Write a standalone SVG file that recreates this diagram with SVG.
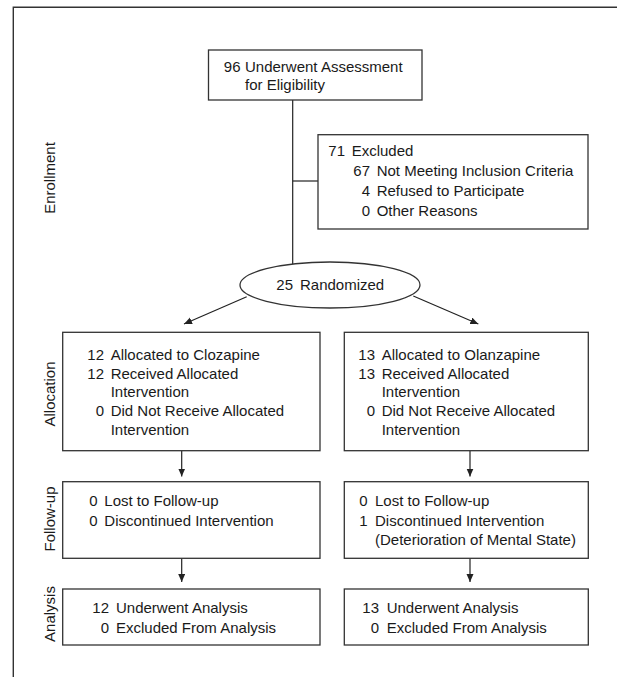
<svg xmlns="http://www.w3.org/2000/svg" width="617" height="677" viewBox="0 0 617 677">
<style>
text{font-family:"Liberation Sans",Arial,sans-serif;font-size:15px;fill:#1a1a1a}
.n{text-anchor:end}
.box{fill:#fff;stroke:#333;stroke-width:1.3}
.ln{fill:none;stroke:#222;stroke-width:1.2}
.frame{fill:none;stroke:#333;stroke-width:1.4}
.stage{text-anchor:middle}
</style>
<defs>
<marker id="ah" markerUnits="userSpaceOnUse" markerWidth="9" markerHeight="8" refX="8" refY="3.5" orient="auto">
<path d="M0,0 L8,3.5 L0,7 z" fill="#222"/>
</marker>
</defs>
<rect width="617" height="677" fill="#fff"/>
<path class="frame" d="M13.3,677 V7.3 H617"/>

<g id="stages">
<text class="stage" transform="translate(55,178) rotate(-90)">Enrollment</text>
<text class="stage" transform="translate(55,394) rotate(-90)">Allocation</text>
<text class="stage" transform="translate(55,519) rotate(-90)">Follow-up</text>
<text class="stage" transform="translate(55,614) rotate(-90)">Analysis</text>
</g>

<g id="connectors">
<path class="ln" d="M292.7,100 V264"/>
<path class="ln" d="M292.7,181 H318"/>
<path class="ln" d="M246.7,296.7 L184,324" marker-end="url(#ah)"/>
<path class="ln" d="M413.3,296 L478.3,324" marker-end="url(#ah)"/>
<path class="ln" d="M181.7,450.7 V476.5" marker-end="url(#ah)"/>
<path class="ln" d="M470,450.7 V476.5" marker-end="url(#ah)"/>
<path class="ln" d="M181.7,558.3 V582" marker-end="url(#ah)"/>
<path class="ln" d="M470,558.3 V582" marker-end="url(#ah)"/>
</g>

<g id="assessment">
<rect class="box" x="208.5" y="50" width="213.5" height="50"/>
<text class="n" x="240.5" y="71.7">96</text>
<text x="245" y="71.7">Underwent Assessment</text>
<text x="245" y="90">for Eligibility</text>
</g>

<g id="excluded">
<rect class="box" x="318" y="134.7" width="270" height="94.3"/>
<text class="n" x="345" y="156">71</text>
<text x="351.7" y="156">Excluded</text>
<text class="n" x="370" y="176">67</text>
<text x="376.7" y="176">Not Meeting Inclusion Criteria</text>
<text class="n" x="370" y="196">4</text>
<text x="376.7" y="196">Refused to Participate</text>
<text class="n" x="370" y="216">0</text>
<text x="376.7" y="216">Other Reasons</text>
</g>

<g id="randomized">
<ellipse class="box" cx="330" cy="285" rx="90" ry="23"/>
<text class="n" x="293" y="290">25</text>
<text x="300" y="290">Randomized</text>
</g>

<g id="alloc-clozapine">
<rect class="box" x="62.7" y="332.3" width="257.3" height="118.4"/>
<text class="n" x="104" y="360">12</text>
<text x="110.7" y="360">Allocated to Clozapine</text>
<text class="n" x="104" y="378.7">12</text>
<text x="110.7" y="378.7">Received Allocated</text>
<text x="110.7" y="397.3">Intervention</text>
<text class="n" x="104" y="416">0</text>
<text x="110.7" y="416">Did Not Receive Allocated</text>
<text x="110.7" y="434.7">Intervention</text>
</g>

<g id="alloc-olanzapine">
<rect class="box" x="344.3" y="332.3" width="244" height="118.4"/>
<text class="n" x="375" y="360">13</text>
<text x="381.7" y="360">Allocated to Olanzapine</text>
<text class="n" x="375" y="378.7">13</text>
<text x="381.7" y="378.7">Received Allocated</text>
<text x="381.7" y="397.3">Intervention</text>
<text class="n" x="375" y="416">0</text>
<text x="381.7" y="416">Did Not Receive Allocated</text>
<text x="381.7" y="434.7">Intervention</text>
</g>

<g id="followup-clozapine">
<rect class="box" x="62.7" y="481.7" width="257.3" height="76.6"/>
<text class="n" x="97.5" y="506">0</text>
<text x="104.3" y="506">Lost to Follow-up</text>
<text class="n" x="97.5" y="525.5">0</text>
<text x="104.3" y="525.5">Discontinued Intervention</text>
</g>

<g id="followup-olanzapine">
<rect class="box" x="344.3" y="481.7" width="244" height="76.6"/>
<text class="n" x="367.5" y="506">0</text>
<text x="375" y="506">Lost to Follow-up</text>
<text class="n" x="367.5" y="525.5">1</text>
<text x="375" y="525.5">Discontinued Intervention</text>
<text x="375" y="544.5">(Deterioration of Mental State)</text>
</g>

<g id="analysis-clozapine">
<rect class="box" x="62.7" y="589" width="257.3" height="56"/>
<text class="n" x="109" y="613.3">12</text>
<text x="116" y="613.3">Underwent Analysis</text>
<text class="n" x="109" y="633.3">0</text>
<text x="116" y="633.3">Excluded From Analysis</text>
</g>

<g id="analysis-olanzapine">
<rect class="box" x="344.3" y="589" width="244" height="56"/>
<text class="n" x="379" y="613.3">13</text>
<text x="386.7" y="613.3">Underwent Analysis</text>
<text class="n" x="379" y="633.3">0</text>
<text x="386.7" y="633.3">Excluded From Analysis</text>
</g>
</svg>
